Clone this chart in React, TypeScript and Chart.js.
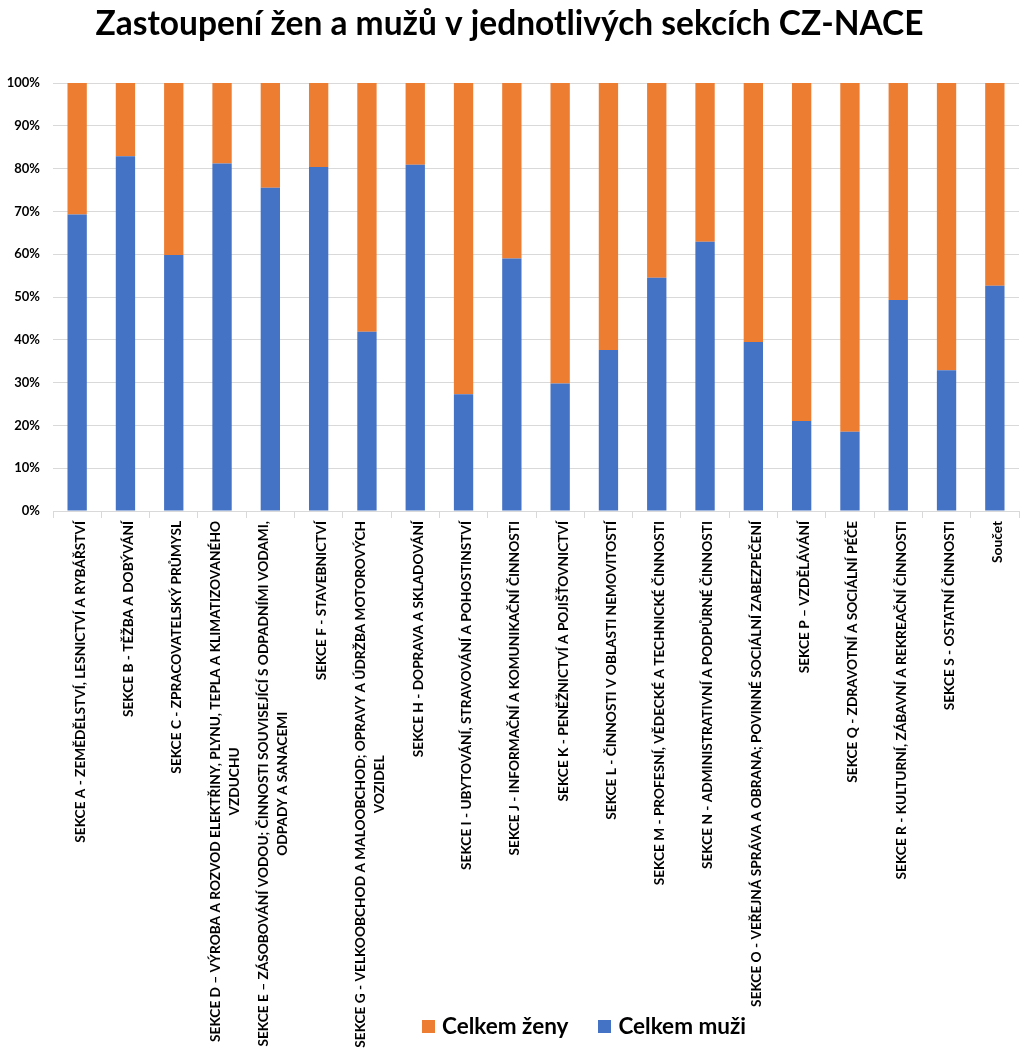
import React, { useEffect, useRef } from "react";
import { Chart, registerables } from "chart.js";

Chart.register(...registerables);

const TITLE = "Zastoupení žen a mužů v jednotlivých sekcích CZ-NACE";

const CATEGORIES: (string | string[])[] = [
  "SEKCE A - ZEMĚDĚLSTVÍ, LESNICTVÍ A RYBÁŘSTVÍ",
  "SEKCE B - TĚŽBA A DOBÝVÁNÍ",
  "SEKCE C - ZPRACOVATELSKÝ PRŮMYSL",
  ["SEKCE D – VÝROBA A ROZVOD ELEKTŘINY, PLYNU, TEPLA A KLIMATIZOVANÉHO", "VZDUCHU"],
  ["SEKCE E – ZÁSOBOVÁNÍ VODOU; ČINNOSTI SOUVISEJÍCÍ S ODPADNÍMI VODAMI,", "ODPADY A SANACEMI"],
  "SEKCE F - STAVEBNICTVÍ",
  ["SEKCE G - VELKOOBCHOD A MALOOBCHOD; OPRAVY A ÚDRŽBA MOTOROVÝCH", "VOZIDEL"],
  "SEKCE H - DOPRAVA A SKLADOVÁNÍ",
  "SEKCE I - UBYTOVÁNÍ, STRAVOVÁNÍ A POHOSTINSTVÍ",
  "SEKCE J - INFORMAČNÍ A KOMUNIKAČNÍ ČINNOSTI",
  "SEKCE K - PENĚŽNICTVÍ A POJIŠŤOVNICTVÍ",
  "SEKCE L - ČINNOSTI V OBLASTI NEMOVITOSTÍ",
  "SEKCE M - PROFESNÍ, VĚDECKÉ A TECHNICKÉ ČINNOSTI",
  "SEKCE N - ADMINISTRATIVNÍ A PODPŮRNÉ ČINNOSTI",
  "SEKCE O - VEŘEJNÁ SPRÁVA A OBRANA; POVINNÉ SOCIÁLNÍ ZABEZPEČENÍ",
  "SEKCE P – VZDĚLÁVÁNÍ",
  "SEKCE Q - ZDRAVOTNÍ A SOCIÁLNÍ PÉČE",
  "SEKCE R - KULTURNÍ, ZÁBAVNÍ A REKREAČNÍ ČINNOSTI",
  "SEKCE S - OSTATNÍ ČINNOSTI",
  "Součet",
];

const SERIES_MUZI_LABEL = "Celkem muži";
const SERIES_ZENY_LABEL = "Celkem ženy";

const MUZI = [69.3, 82.9, 59.8, 81.2, 75.5, 80.4, 41.9, 80.9, 27.3, 59.0, 29.8, 37.6, 54.5, 62.9, 39.5, 21.0, 18.5, 49.3, 32.9, 52.6];
const ZENY = [30.7, 17.1, 40.2, 18.8, 24.5, 19.6, 58.1, 19.1, 72.7, 41.0, 70.2, 62.4, 45.5, 37.1, 60.5, 79.0, 81.5, 50.7, 67.1, 47.4];

const Y_MIN = 0;
const Y_MAX = 100;
const Y_STEP = 10;

const BLUE = "#4472C4";
const ORANGE = "#ED7D31";
const GRID = "#D9D9D9";
const FONT = "Lato";

const TICK_LEN = 7;
const TICK_PAD = 3;
const LABEL_SHIFT = 3;

const centerLabelsPlugin = {
  id: "centerLabels",
  beforeDraw(chart: any) {
    const scale = chart.scales.x;
    const items = scale.getLabelItems(chart.chartArea);
    if ((items as any)._centered) return;
    const ctx = chart.ctx;
    const top = scale.top + TICK_LEN + TICK_PAD;
    items.forEach((item: any, i: number) => {
      const lines = Array.isArray(item.label) ? item.label : [item.label];
      ctx.save();
      ctx.font = item.font.string;
      const maxW = Math.max(...lines.map((l: string) => ctx.measureText(l).width));
      ctx.restore();
      const lh = item.font.lineHeight;
      const x = scale.getPixelForTick(i) + LABEL_SHIFT - ((lines.length - 1) * lh) / 2;
      item.textOffset = 0;
      item.options.textAlign = "center";
      item.options.textBaseline = "middle";
      item.options.translation = [x, top + maxW / 2];
    });
    (items as any)._centered = true;
  },
};

export default function App() {
  const ref = useRef<HTMLCanvasElement | null>(null);

  useEffect(() => {
    if (!ref.current) return;
    const chart = new Chart(ref.current, {
      type: "bar",
      data: {
        labels: CATEGORIES,
        datasets: [
          {
            label: SERIES_MUZI_LABEL,
            data: MUZI,
            backgroundColor: BLUE,
            barPercentage: 0.4,
            categoryPercentage: 1,
          },
          {
            label: SERIES_ZENY_LABEL,
            data: ZENY,
            backgroundColor: ORANGE,
            barPercentage: 0.4,
            categoryPercentage: 1,
          },
        ],
      },
      plugins: [centerLabelsPlugin],
      options: {
        responsive: false,
        animation: false,
        layout: { padding: { left: 0, right: 5, top: 0, bottom: 0 } },
        plugins: {
          legend: { display: false },
          tooltip: { enabled: false },
          title: {
            display: true,
            text: TITLE,
            color: "#000",
            font: { family: FONT, size: 33.5, weight: "bold" },
            padding: { top: 4, bottom: 38.8 },
          },
        },
        scales: {
          x: {
            stacked: true,
            afterFit: (s: any) => {
              s.height = 548;
            },
            border: { display: true, color: GRID },
            grid: {
              offset: true,
              drawOnChartArea: false,
              drawTicks: true,
              tickLength: TICK_LEN,
              color: GRID,
            },
            ticks: {
              autoSkip: false,
              minRotation: 90,
              maxRotation: 90,
              padding: TICK_PAD,
              color: "#000",
              font: { family: FONT, size: 13.7, weight: "bold", lineHeight: 1.4 },
            },
          },
          y: {
            stacked: true,
            min: Y_MIN,
            max: Y_MAX,
            afterFit: (s: any) => {
              s.width = 53;
            },
            border: { display: false },
            grid: { color: GRID, drawTicks: false },
            ticks: {
              stepSize: Y_STEP,
              padding: 13,
              color: "#000",
              font: { family: FONT, size: 13, weight: "bold" },
              callback: (v: any) => `${v}%`,
            },
          },
        },
      },
    });
    return () => chart.destroy();
  }, []);

  const legendItem = (color: string, text: string) => (
    <div style={{ display: "flex", alignItems: "center", marginRight: 30 }}>
      <div style={{ width: 13, height: 13, background: color, marginRight: 7 }} />
      <span style={{ fontFamily: FONT, fontWeight: 700, fontSize: 22.5, color: "#000", lineHeight: "26px" }}>{text}</span>
    </div>
  );

  return (
    <div style={{ position: "absolute", left: 0, top: 0, width: 1024, height: 1059, background: "#fff" }}>
      <canvas ref={ref} width={1024} height={1059} style={{ display: "block" }} />
      <div style={{ position: "absolute", left: 422, top: 1013, display: "flex" }}>
        {legendItem(ORANGE, SERIES_ZENY_LABEL)}
        {legendItem(BLUE, SERIES_MUZI_LABEL)}
      </div>
    </div>
  );
}
